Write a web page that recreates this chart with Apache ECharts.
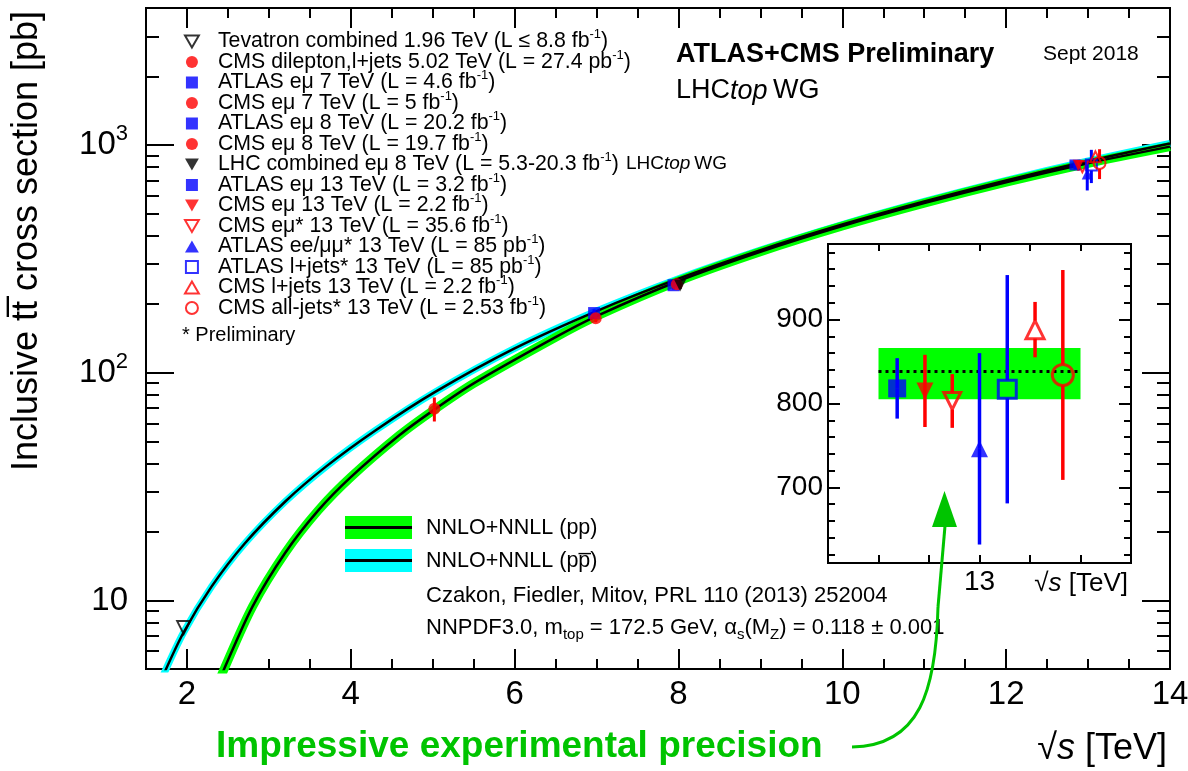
<!DOCTYPE html>
<html>
<head>
<meta charset="utf-8">
<script src="https://cdn.jsdelivr.net/npm/echarts@6/dist/echarts.min.js"></script>
<style>html,body{margin:0;padding:0;background:#fff}#c{width:1188px;height:771px}</style>
</head>
<body>
<div id="c"></div>
<script>
// ---------------- data ----------------
const expNames = [
  'Tevatron combined 1.96 TeV (L \u2264 8.8 fb^-1)',
  'CMS dilepton,l+jets 5.02 TeV (L = 27.4 pb^-1)',
  'ATLAS e\u03bc 7 TeV (L = 4.6 fb^-1)',
  'CMS e\u03bc 7 TeV (L = 5 fb^-1)',
  'ATLAS e\u03bc 8 TeV (L = 20.2 fb^-1)',
  'CMS e\u03bc 8 TeV (L = 19.7 fb^-1)',
  'LHC combined e\u03bc 8 TeV (L = 5.3-20.3 fb^-1)',
  'ATLAS e\u03bc 13 TeV (L = 3.2 fb^-1)',
  'CMS e\u03bc 13 TeV (L = 2.2 fb^-1)',
  'CMS e\u03bc* 13 TeV (L = 35.6 fb^-1)',
  'ATLAS ee/\u03bc\u03bc* 13 TeV (L = 85 pb^-1)',
  'ATLAS l+jets* 13 TeV (L = 85 pb^-1)',
  'CMS l+jets 13 TeV (L = 2.2 fb^-1)',
  'CMS all-jets* 13 TeV (L = 2.53 fb^-1)'
];
const expX     = [1.96, 5.02, 6.97, 6.99, 7.94, 7.98, 8.02, 12.84, 12.88, 12.93, 12.99, 13.04, 13.09, 13.14];
const expSigma = [7.60, 69.5, 182.9, 173.6, 242.4, 244.9, 241.5, 818, 815, 803, 746, 817, 888, 834];
const expErr   = [0.41, 8.4, 7.1, 7.0, 10.3, 9.9, 8.5, 36, 43, 32, 114, 136, 33, 125];
// inset (13 TeV) horizontal slots for experiments 7..13
const insetIdx = [7, 8, 9, 10, 11, 12, 13];
const insetX   = [1.37, 1.92, 2.46, 3.0, 3.55, 4.1, 4.65];

// NNLO+NNLL theory curves
const theoryX_pp = [2.3, 2.45, 2.8, 3.2, 3.6, 4.0, 4.6, 5.02, 5.5, 6.5, 7.0, 8.0, 9.0, 10.0, 11.0, 12.0, 13.0, 14.0];
const sigma_pp   = [3.66, 4.96, 9.4, 16.2, 24.8, 34.8, 53.4, 68.9, 89.8, 143.3, 177.3, 252.9, 340, 441, 556, 687, 831.8, 984.5];
const theoryX_ppbar = [1.7, 1.96, 2.3, 2.7, 3.2, 3.7, 4.3, 5.02, 6.0, 7.0, 8.0, 9.0, 10.0, 11.0, 12.0, 13.0, 14.0];
const sigma_ppbar   = [4.6, 7.25, 11.5, 17.7, 27.2, 38.8, 55.8, 82, 128, 186.7, 259, 345.7, 447.6, 565.5, 699.8, 851.3, 1017];
// 13 TeV theory band in the inset
const band13X = [1, 5];
const band13  = [805, 866];
const central13 = 838;

// ticks / labels
const xMajorTicks = [2, 4, 6, 8, 10, 12, 14];
const xMinorTicks = [2.5, 3, 3.5, 4.5, 5, 5.5, 6.5, 7, 7.5, 8.5, 9, 9.5, 10.5, 11, 11.5, 12.5, 13, 13.5];
const yMajorTicks = [10, 100, 1000];
const yMinorTicks = [6, 7, 8, 9, 20, 30, 40, 50, 60, 70, 80, 90, 200, 300, 400, 500, 600, 700, 800, 900, 2000, 3000];
const insetXTicks = [1, 2, 3, 4, 5];
const insetXLabelAt = [3];
const insetXLabelText = '13';
const insetYMajor = [700, 800, 900];
const insetYMinor = [620, 640, 660, 680, 720, 740, 760, 780, 820, 840, 860, 880, 920, 940, 960, 980];

// ---------------- styles ----------------
const FONT = "'Liberation Sans', Arial, Helvetica, sans-serif";
const expColor = ['#000000', '#ff0000', '#0000ff', '#ff0000', '#0000ff', '#ff0000', '#000000',
                  '#0000ff', '#ff0000', '#ff0000', '#0000ff', '#0000ff', '#ff0000', '#ff0000'];
const expShape = ['downOpen', 'circle', 'rect', 'circle', 'rect', 'circle', 'down',
                  'rect', 'down', 'downOpen', 'up', 'rectOpen', 'upOpen', 'circleOpen'];
const mainSize  = [13, 12, 12, 12, 12, 12, 12, 11, 11, 11, 11, 11, 11, 12];
const insetSize = {7: 18, 8: 17, 9: 17, 10: 17, 11: 18, 12: 18, 13: 21};
const DOWN = 'path://M0,0L10,0L5,8.66Z';
const UP   = 'path://M5,0L10,8.66L0,8.66Z';
const RECT = 'path://M0,0L10,0L10,10L0,10Z';
const GREEN = '#00ff00', CYAN = '#00ffff', ARROW = '#00c400';

function isOpen(i) { return expShape[i].indexOf('Open') > 0; }
function symbolOf(i) {
  const s = expShape[i].replace('Open', '');
  return {circle: 'circle', rect: RECT, up: UP, down: DOWN}[s];
}
function itemStyleOf(i, bw) {
  return isOpen(i)
    ? {color: 'rgba(255,255,255,0)', borderColor: expColor[i], borderWidth: bw}
    : {color: expColor[i], borderWidth: 0};
}
function errRender(sizeOf, lw) {
  return function (params, api) {
    const x = api.value(0), y = api.value(1), e = api.value(2), i = api.value(3);
    const c = api.coord([x, y]);
    const t = api.coord([x, y + e]);
    const b = api.coord([x, y - e]);
    const gap = isOpen(i) ? sizeOf(i) / 2 : 0;
    const kids = [];
    const st = {stroke: expColor[i], lineWidth: lw};
    if (c[1] - gap > t[1]) kids.push({type: 'line', shape: {x1: c[0], y1: t[1], x2: c[0], y2: c[1] - gap}, style: st});
    if (b[1] > c[1] + gap) kids.push({type: 'line', shape: {x1: c[0], y1: c[1] + gap, x2: c[0], y2: b[1]}, style: st});
    return {type: 'group', children: kids};
  };
}
const zip = (xs, ys) => xs.map((x, k) => [x, ys[k]]);

// ---------------- axes ----------------
const tickStyle = {color: '#000', width: 2};
function ax(extra) {
  return Object.assign({
    axisLine: {show: false, onZero: false},
    splitLine: {show: false},
    minorTick: {show: false},
    axisLabel: {show: false},
    nameMoveOverlap: false
  }, extra);
}
const xAxes = [
  ax({gridIndex: 0, type: 'value', min: 1.5, max: 14, position: 'bottom',
      axisTick: {inside: true, length: 20, customValues: xMajorTicks, lineStyle: tickStyle},
      axisLabel: {show: true, customValues: xMajorTicks, fontSize: 33, fontFamily: FONT, color: '#000', margin: 9},
      name: '\u221a{it|s} [TeV]', nameLocation: 'end', nameGap: -3,
      nameTextStyle: {fontSize: 36, fontFamily: FONT, color: '#000', align: 'right', verticalAlign: 'top', padding: [62, 0, 0, 0],
        rich: {it: {fontSize: 36, fontFamily: FONT, fontStyle: 'italic', color: '#000'}}}}),
  ax({gridIndex: 0, type: 'value', min: 1.5, max: 14, position: 'bottom',
      axisTick: {inside: true, length: 10, customValues: xMinorTicks, lineStyle: tickStyle}}),
  ax({gridIndex: 0, type: 'value', min: 1.5, max: 14, position: 'top',
      axisTick: {inside: true, length: 20, customValues: xMajorTicks, lineStyle: tickStyle}}),
  ax({gridIndex: 0, type: 'value', min: 1.5, max: 14, position: 'top',
      axisTick: {inside: true, length: 10, customValues: xMinorTicks, lineStyle: tickStyle}}),
  ax({gridIndex: 1, type: 'value', min: 0, max: 6, position: 'bottom',
      axisTick: {inside: true, length: 8, customValues: insetXTicks, lineStyle: tickStyle},
      axisLabel: {show: true, customValues: insetXLabelAt, formatter: () => insetXLabelText, fontSize: 28, fontFamily: FONT, color: '#000', margin: 5},
      name: '\u221a{it|s} [TeV]', nameLocation: 'end', nameGap: -3,
      nameTextStyle: {fontSize: 26, fontFamily: FONT, color: '#000', align: 'right', verticalAlign: 'top', padding: [8, 0, 0, 0],
        rich: {it: {fontSize: 26, fontFamily: FONT, fontStyle: 'italic', color: '#000'}}}}),
  ax({gridIndex: 1, type: 'value', min: 0, max: 6, position: 'top',
      axisTick: {inside: true, length: 7, customValues: insetXTicks, lineStyle: tickStyle}})
];
const yAxes = [
  ax({gridIndex: 0, type: 'log', logBase: 10, min: 5, max: 4000, position: 'left',
      axisTick: {inside: true, length: 28, customValues: yMajorTicks, lineStyle: tickStyle},
      axisLabel: {show: true, customValues: yMajorTicks, fontSize: 33, fontFamily: FONT, color: '#000', margin: 18, lineHeight: 33,
        formatter: v => { const p = Math.round(Math.log10(v)); return p === 1 ? '10' : '10{sup|' + p + '}'; },
        rich: {sup: {fontSize: 22, fontFamily: FONT, color: '#000', lineHeight: 33, padding: [0, 0, 22, 0]}}}}),
  ax({gridIndex: 0, type: 'log', logBase: 10, min: 5, max: 4000, position: 'left',
      axisTick: {inside: true, length: 13, customValues: yMinorTicks, lineStyle: tickStyle}}),
  ax({gridIndex: 0, type: 'log', logBase: 10, min: 5, max: 4000, position: 'right',
      axisTick: {inside: true, length: 28, customValues: yMajorTicks, lineStyle: tickStyle}}),
  ax({gridIndex: 0, type: 'log', logBase: 10, min: 5, max: 4000, position: 'right',
      axisTick: {inside: true, length: 13, customValues: yMinorTicks, lineStyle: tickStyle}}),
  ax({gridIndex: 1, type: 'value', min: 610, max: 990, position: 'left',
      axisTick: {inside: true, length: 12, customValues: insetYMajor, lineStyle: tickStyle},
      axisLabel: {show: true, customValues: insetYMajor, fontSize: 28, fontFamily: FONT, color: '#000', margin: 5}}),
  ax({gridIndex: 1, type: 'value', min: 610, max: 990, position: 'left',
      axisTick: {inside: true, length: 7, customValues: insetYMinor, lineStyle: tickStyle}}),
  ax({gridIndex: 1, type: 'value', min: 610, max: 990, position: 'right',
      axisTick: {inside: true, length: 12, customValues: insetYMajor, lineStyle: tickStyle}}),
  ax({gridIndex: 1, type: 'value', min: 610, max: 990, position: 'right',
      axisTick: {inside: true, length: 7, customValues: insetYMinor, lineStyle: tickStyle}})
];

// ---------------- series ----------------
const series = [];
series.push({type: 'line', name: 'ppbar band', xAxisIndex: 0, yAxisIndex: 0, data: zip(theoryX_ppbar, sigma_ppbar),
  symbol: 'none', smooth: 0.3, lineStyle: {color: CYAN, width: 7}, z: 1, silent: true});
series.push({type: 'line', name: 'pp band', xAxisIndex: 0, yAxisIndex: 0, data: zip(theoryX_pp, sigma_pp),
  symbol: 'none', smooth: 0.3, lineStyle: {color: GREEN, width: 9}, z: 1, silent: true});
series.push({type: 'line', name: 'ppbar central', xAxisIndex: 0, yAxisIndex: 0, data: zip(theoryX_ppbar, sigma_ppbar),
  symbol: 'none', smooth: 0.3, lineStyle: {color: '#000', width: 2.5}, z: 2, silent: true});
series.push({type: 'line', name: 'pp central', xAxisIndex: 0, yAxisIndex: 0, data: zip(theoryX_pp, sigma_pp),
  symbol: 'none', smooth: 0.3, lineStyle: {color: '#000', width: 2.5}, z: 2, silent: true});
series.push({type: 'custom', name: 'errors main', xAxisIndex: 0, yAxisIndex: 0, z: 4, silent: true,
  data: expX.map((x, i) => [x, expSigma[i], expErr[i], i]),
  renderItem: errRender(i => mainSize[i], 3)});
expNames.forEach((n, i) => {
  series.push({type: 'scatter', name: n, xAxisIndex: 0, yAxisIndex: 0, z: 5,
    data: [[expX[i], expSigma[i]]], symbol: symbolOf(i), symbolSize: mainSize[i],
    itemStyle: itemStyleOf(i, 2)});
});
// inset
series.push({type: 'line', name: 'theory 13', xAxisIndex: 4, yAxisIndex: 4, z: 3, silent: true,
  data: band13X.map(x => [x, central13]), symbol: 'none',
  lineStyle: {color: '#000', width: 3, type: [3, 4]},
  markArea: {silent: true, itemStyle: {color: GREEN},
    data: [[{xAxis: band13X[0], yAxis: band13[0]}, {xAxis: band13X[1], yAxis: band13[1]}]]}});
series.push({type: 'custom', name: 'errors inset', xAxisIndex: 4, yAxisIndex: 4, z: 4, silent: true,
  data: insetIdx.map((i, k) => [insetX[k], expSigma[i], expErr[i], i]),
  renderItem: errRender(i => insetSize[i], 3.5)});
insetIdx.forEach((i, k) => {
  series.push({type: 'scatter', name: expNames[i], xAxisIndex: 4, yAxisIndex: 4, z: 5,
    data: [[insetX[k], expSigma[i]]], symbol: symbolOf(i), symbolSize: insetSize[i],
    itemStyle: itemStyleOf(i, 3)});
});

// ---------------- annotations ----------------
const t = (x, y, text, size, extra, rot) => ({type: 'text', x: x, y: y, rotation: rot || 0, silent: true,
  style: Object.assign({text: text, fontSize: size, fontFamily: FONT, fill: '#000', align: 'left', verticalAlign: 'middle'}, extra || {})});
const lhcTop = (size) => ({
  n: {fontSize: size, fontFamily: FONT, fill: '#000'},
  i: {fontSize: size, fontFamily: FONT, fontStyle: 'italic', fill: '#000'}
});
const subRich = {
  n: {fontSize: 22, fontFamily: FONT, fill: '#000'},
  sub: {fontSize: 15, fontFamily: FONT, fill: '#000', padding: [14, 0, 0, 0]}
};
const graphics = [
  t(27, 241, 'Inclusive tt\u0305 cross section [pb]', 36, {align: 'center'}, Math.PI / 2),
  t(676, 55, 'ATLAS+CMS Preliminary', 27, {fontWeight: 'bold'}),
  t(1043, 54, 'Sept 2018', 21),
  t(676, 91, '{n|LHC}{i|top}{n|\u2009WG}', 27, {rich: lhcTop(27)}),
  t(626, 164, '{n|LHC}{i|top}{n|\u2009WG}', 19, {rich: lhcTop(19)}),
  t(182, 335, '* Preliminary', 20),
  {type: 'rect', silent: true, shape: {x: 345, y: 516, width: 67, height: 23}, style: {fill: GREEN}},
  {type: 'line', silent: true, shape: {x1: 345, y1: 527.5, x2: 412, y2: 527.5}, style: {stroke: '#000', lineWidth: 3}},
  {type: 'rect', silent: true, shape: {x: 345, y: 549, width: 67, height: 23}, style: {fill: CYAN}},
  {type: 'line', silent: true, shape: {x1: 345, y1: 560.5, x2: 412, y2: 560.5}, style: {stroke: '#000', lineWidth: 3}},
  t(426, 528, 'NNLO+NNLL (pp)', 21.5),
  t(426, 561, 'NNLO+NNLL (pp\u0305)', 21.5),
  t(426, 596, 'Czakon, Fiedler, Mitov, PRL 110 (2013) 252004', 22),
  t(426, 628, '{n|NNPDF3.0, m}{sub|top}{n| = 172.5 GeV, \u03b1}{sub|s}{n|(M}{sub|Z}{n|) = 0.118 \u00b1 0.001}', 22, {rich: subRich}),
  t(216, 747, 'Impressive experimental precision', 37, {fontWeight: 'bold', fill: ARROW}),
  {type: 'bezierCurve', silent: true, shape: {x1: 852, y1: 747, cpx1: 920, cpy1: 746, cpx2: 936, cpy2: 690, x2: 938, y2: 607},
    style: {stroke: ARROW, lineWidth: 3, fill: null}},
  {type: 'line', silent: true, shape: {x1: 938, y1: 607, x2: 945, y2: 526}, style: {stroke: ARROW, lineWidth: 3}},
  {type: 'polygon', silent: true, shape: {points: [[944.5, 491], [932, 527], [957, 527]]}, style: {fill: ARROW}}
];

// ---------------- chart ----------------
const chart = echarts.init(document.getElementById('c'), null, {renderer: 'canvas'});
chart.setOption({
  animation: false,
  backgroundColor: '#fff',
  grid: [
    {left: 146, right: 18, top: 8, bottom: 102, show: true, borderColor: '#000', borderWidth: 2,
     backgroundColor: 'transparent', containLabel: false, outerBoundsMode: 'none'},
    {left: 828, top: 244, width: 303, height: 319, show: true, borderColor: '#000', borderWidth: 2,
     backgroundColor: '#fff', containLabel: false, outerBoundsMode: 'none'}
  ],
  legend: {
    data: expNames, orient: 'vertical', left: 184, top: 28, padding: 0, itemGap: -3.5,
    itemWidth: 42, itemHeight: 12, selectedMode: false,
    formatter: n => n.replace('^-1', '{sup|-1}'),
    textStyle: {fontSize: 21.3, fontFamily: FONT, color: '#000', lineHeight: 20,
      rich: {sup: {fontSize: 13, fontFamily: FONT, color: '#000', lineHeight: 20, height: 6, verticalAlign: 'top'}}}
  },
  xAxis: xAxes,
  yAxis: yAxes,
  series: series,
  graphic: graphics
});
</script>
</body>
</html>
